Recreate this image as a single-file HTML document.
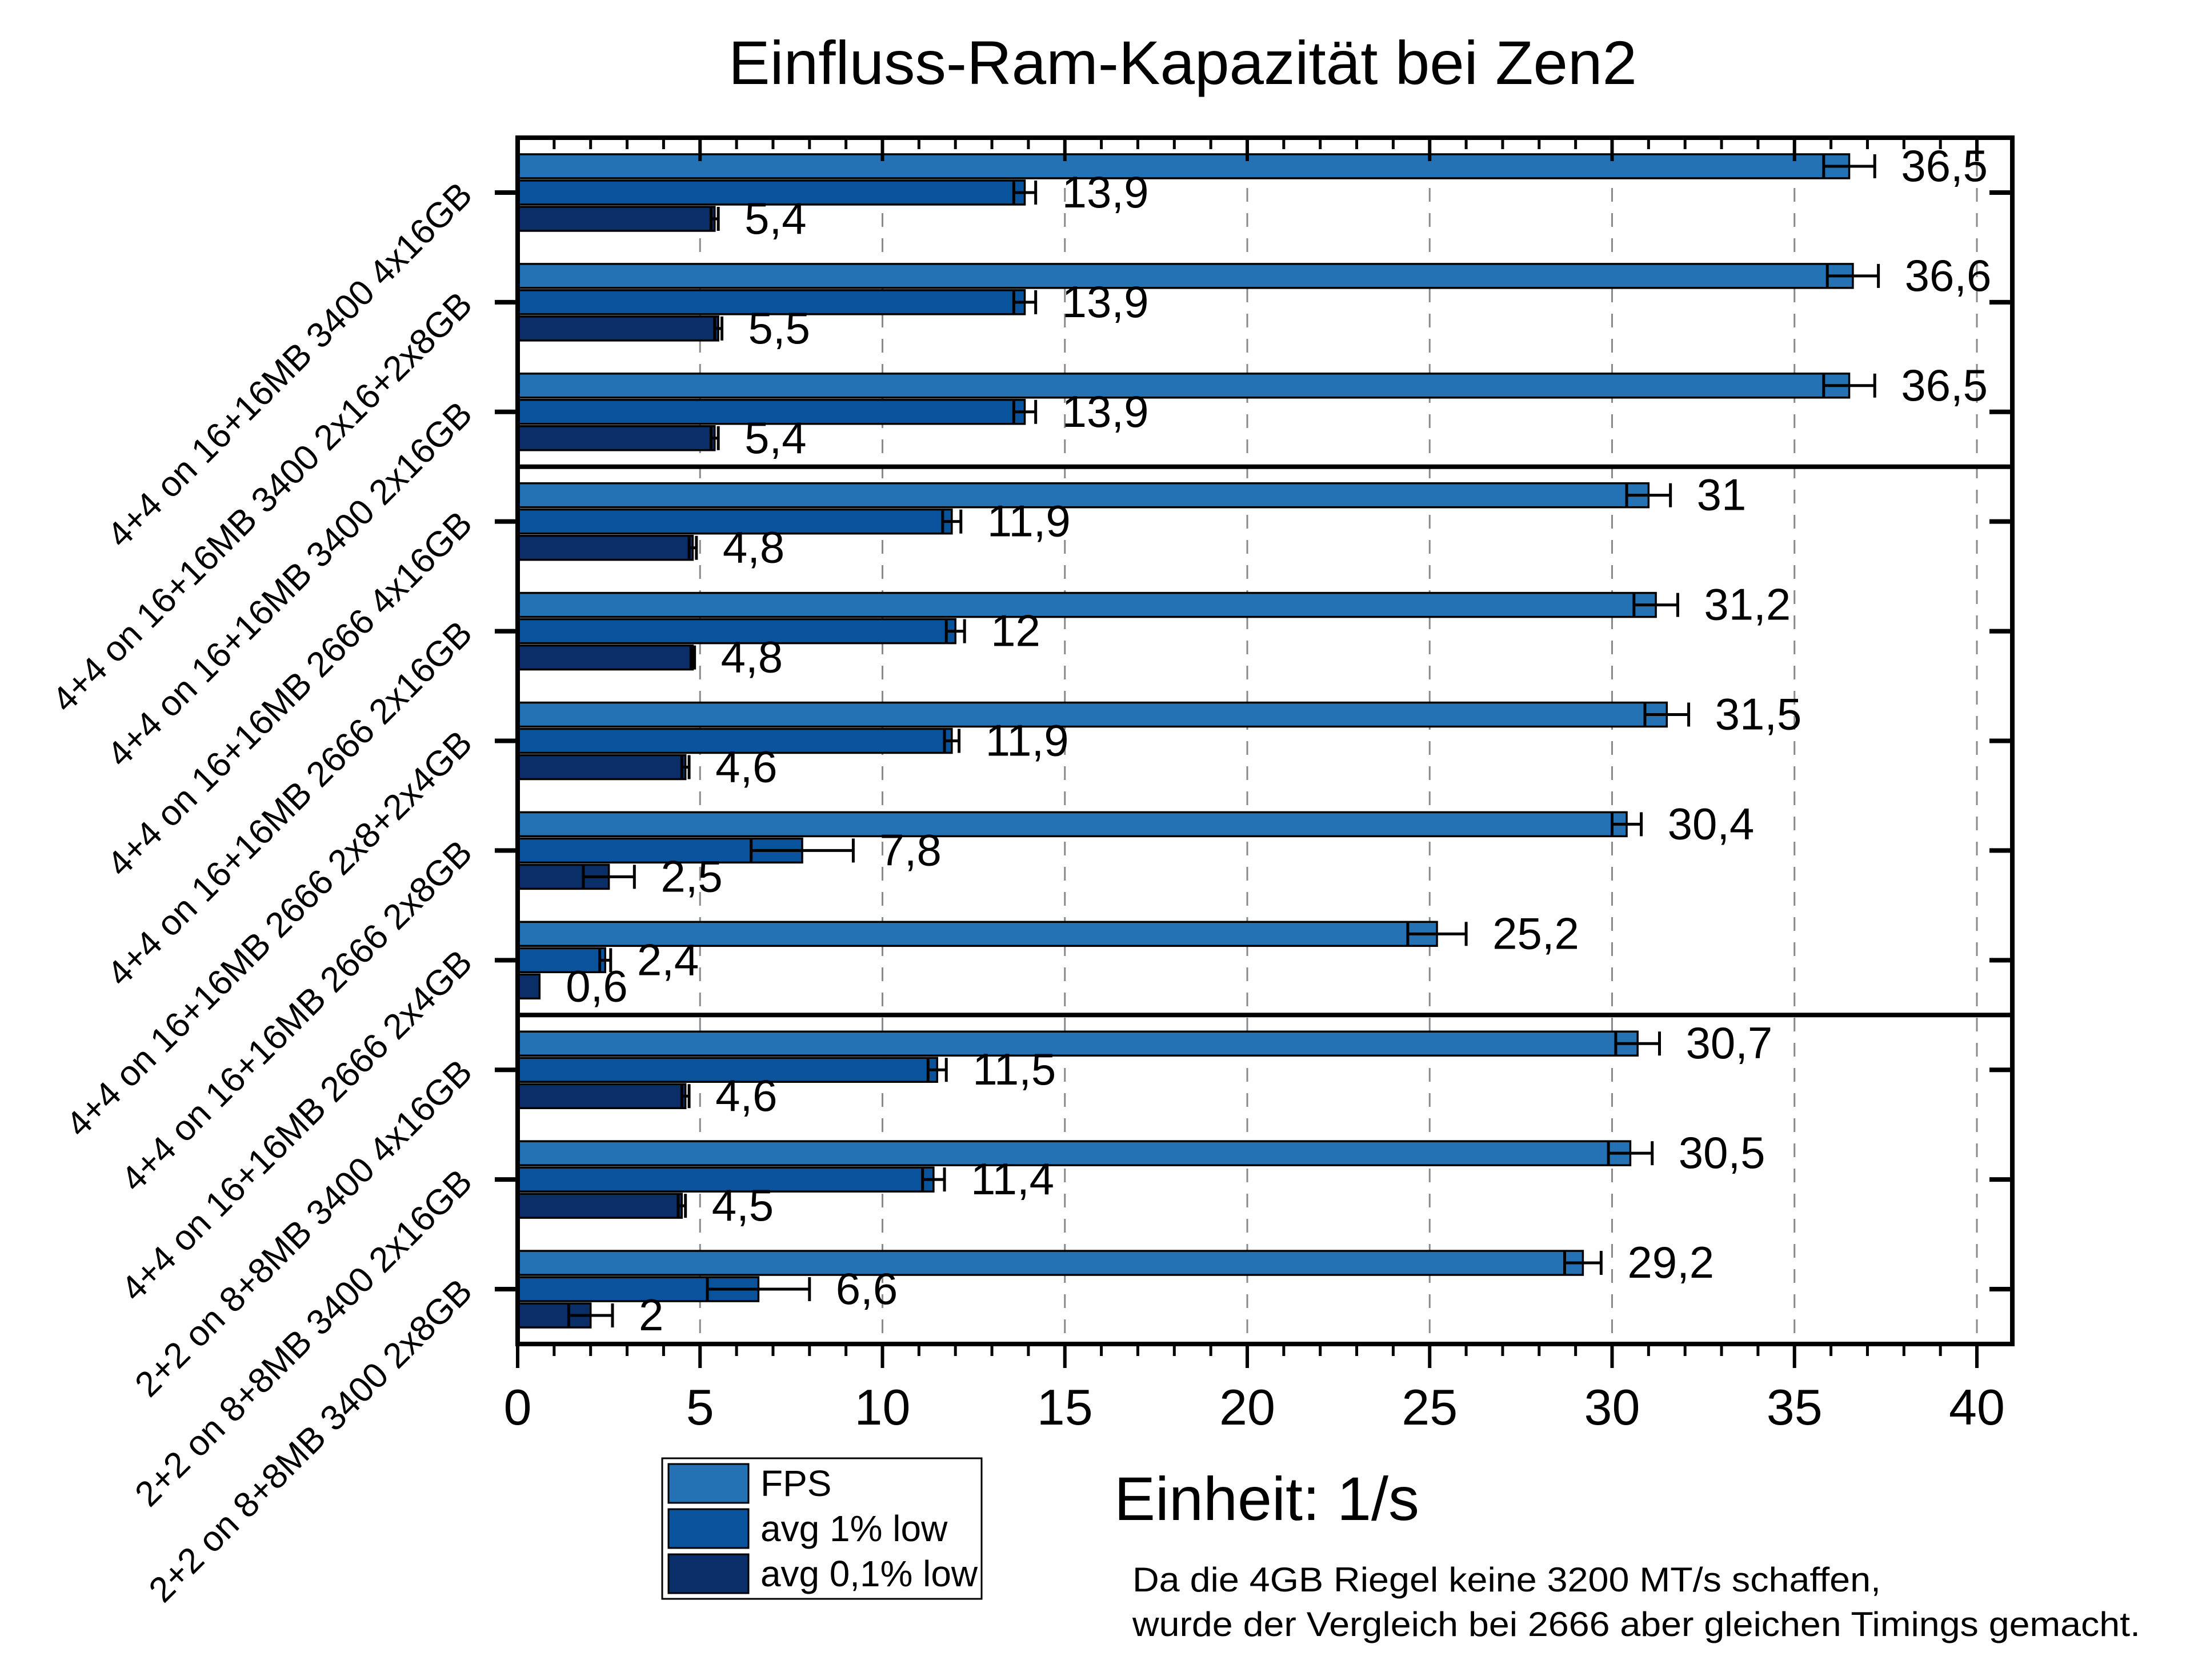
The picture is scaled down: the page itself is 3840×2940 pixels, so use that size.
<!DOCTYPE html>
<html><head><meta charset="utf-8"><style>
html,body{margin:0;padding:0;background:#fff}
svg{display:block;font-family:"Liberation Sans",Arial,sans-serif}
</style></head><body>
<svg id="chart" width="3840" height="2940" viewBox="0 0 3840 2940" xmlns="http://www.w3.org/2000/svg">
<rect width="3840" height="2940" fill="#fff"/>
<text x="2070" y="147" font-size="108" text-anchor="middle" textLength="1590" lengthAdjust="spacingAndGlyphs">Einfluss-Ram-Kapazität bei Zen2</text>
<g id="grid"></g>
<g id="bars"></g>
<g id="axes"></g>
<g id="labels"></g>
<g>
<rect x="1159" y="2552" width="559" height="246" fill="#fff" stroke="#000" stroke-width="3"/>
<rect x="1170" y="2562" width="140" height="68" fill="#2472b4" stroke="#000" stroke-width="3"/>
<rect x="1170" y="2641" width="140" height="68" fill="#09529c" stroke="#000" stroke-width="3"/>
<rect x="1170" y="2720" width="140" height="68" fill="#0a2e68" stroke="#000" stroke-width="3"/>
<text x="1331" y="2618" font-size="64">FPS</text>
<text x="1331" y="2697" font-size="64">avg 1% low</text>
<text x="1331" y="2776" font-size="64" textLength="380" lengthAdjust="spacingAndGlyphs">avg 0,1% low</text>
</g>
<text x="1950" y="2660" font-size="108" textLength="534" lengthAdjust="spacingAndGlyphs">Einheit: 1/s</text>
<text x="1982" y="2785" font-size="60" textLength="1310" lengthAdjust="spacingAndGlyphs">Da die 4GB Riegel keine 3200 MT/s schaffen,</text>
<text x="1982" y="2863" font-size="60" textLength="1764" lengthAdjust="spacingAndGlyphs">wurde der Vergleich bei 2666 aber gleichen Timings gemacht.</text>
</svg>
<script>
const categories = ["4+4 on 16+16MB 3400 4x16GB","4+4 on 16+16MB 3400 2x16+2x8GB","4+4 on 16+16MB 3400 2x16GB","4+4 on 16+16MB 2666 4x16GB","4+4 on 16+16MB 2666 2x16GB","4+4 on 16+16MB 2666 2x8+2x4GB","4+4 on 16+16MB 2666 2x8GB","4+4 on 16+16MB 2666 2x4GB","2+2 on 8+8MB 3400 4x16GB","2+2 on 8+8MB 3400 2x16GB","2+2 on 8+8MB 3400 2x8GB"];
const fps = [36.5,36.6,36.5,31,31.2,31.5,30.4,25.2,30.7,30.5,29.2];
const fpsErr = [0.7,0.7,0.7,0.6,0.6,0.6,0.4,0.8,0.6,0.6,0.5];
const low1 = [13.9,13.9,13.9,11.9,12,11.9,7.8,2.4,11.5,11.4,6.6];
const low1Err = [0.3,0.3,0.3,0.25,0.25,0.2,1.4,0.15,0.25,0.3,1.4];
const low01 = [5.4,5.5,5.4,4.8,4.8,4.6,2.5,0.6,4.6,4.5,2];
const low01Err = [0.1,0.1,0.1,0.1,0.05,0.1,0.7,0,0.1,0.1,0.6];
const xTicks = [0,5,10,15,20,25,30,35,40];
const groupBreaks = [3,8];

const NS="http://www.w3.org/2000/svg";
const L=906,R=3522,T=241,B=2352;
const x0=906, ppu=63.85;
const X=v=>x0+v*ppu;
const rowH=(B-T)/categories.length;
const C=i=>T+(i+0.5)*rowH;
function mk(tag,parent,at){const e=document.createElementNS(NS,tag);for(const k in at)e.setAttribute(k,at[k]);parent.appendChild(e);return e;}
const grid=document.getElementById('grid'),bars=document.getElementById('bars'),axes=document.getElementById('axes'),labels=document.getElementById('labels');
const fmt=v=>String(v).replace('.',',');

xTicks.forEach(t=>{ if(t===0)return;
  const g=mk('line',grid,{x1:X(t),x2:X(t),y1:T,y2:B,stroke:'#8a8a8a','stroke-width':3,'stroke-dasharray':'24 20'});
  
  
});

const series=[{v:fps,e:fpsErr,col:'#2472b4',off:-67,name:'fps'},{v:low1,e:low1Err,col:'#09529c',off:-21,name:'low1'},{v:low01,e:low01Err,col:'#0a2e68',off:25,name:'low01'}];
const bh=42;
categories.forEach((c,i)=>{
  series.forEach(s=>{
    const y=C(i)+s.off, v=s.v[i], e=s.e[i];
    const r=mk('rect',bars,{x:X(0),y:y,width:X(v)-X(0),height:bh,fill:s.col,stroke:'#000','stroke-width':3.5});
    
    
    const cy=y+bh/2;
    if(e>0){
      const eg=mk('g',bars,{stroke:'#000','stroke-width':5});
      
      
      mk('line',eg,{x1:X(v-e),x2:X(v+e),y1:cy,y2:cy});
      mk('line',eg,{x1:X(v-e),x2:X(v-e),y1:y,y2:y+bh});
      mk('line',eg,{x1:X(v+e),x2:X(v+e),y1:y,y2:y+bh});
    }
    const t=mk('text',labels,{x:X(v+e)+46,y:y+bh+5,'font-size':78});
    t.textContent=fmt(v);
    
    
  });
  mk('line',axes,{x1:L-40,x2:L,y1:C(i),y2:C(i),stroke:'#000','stroke-width':8});
  mk('line',axes,{x1:R-40,x2:R,y1:C(i),y2:C(i),stroke:'#000','stroke-width':8});
  const lx=830, ly=C(i)+8;
  const tl=mk('text',axes,{x:lx,y:ly,'font-size':62,'text-anchor':'end',transform:`rotate(-45 ${lx} ${ly})`});
  tl.textContent=c;
  
  
});

groupBreaks.forEach(b=>{
  const d=mk('line',axes,{x1:L,x2:R,y1:T+b*rowH,y2:T+b*rowH,stroke:'#000','stroke-width':8});
  
  
});

for(let v=0;v<=40;v++){
  const major=v%5===0;
  mk('line',axes,{x1:X(v),x2:X(v),y1:T,y2:T+(major?41:20),stroke:'#000','stroke-width':major?6:5});
  mk('line',axes,{x1:X(v),x2:X(v),y1:B,y2:B+(major?42:21),stroke:'#000','stroke-width':major?6:5});
}
xTicks.forEach(t=>{
  const tx=mk('text',axes,{x:X(t),y:2493,'font-size':88,'text-anchor':'middle'});
  tx.textContent=t;
  
  
});
const frame=mk('rect',axes,{x:L,y:T,width:R-L,height:B-T,fill:'none',stroke:'#000','stroke-width':8});


</script>
</body></html>
